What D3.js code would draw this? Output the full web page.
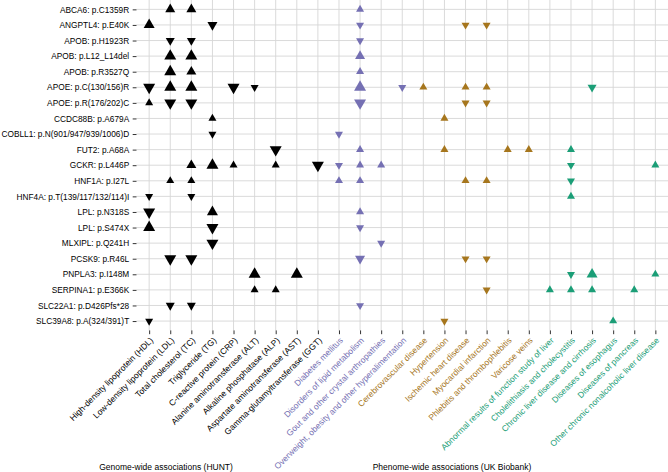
<!DOCTYPE html>
<html>
<head>
<meta charset="utf-8">
<script src="https://cdn.jsdelivr.net/npm/d3@7"></script>
<style>
  html, body { margin: 0; padding: 0; background: #fff; }
  svg { display: block; font-family: "Liberation Sans", Arial, Helvetica, sans-serif; }
</style>
</head>
<body>
<svg id="chart" width="668" height="472"></svg>
<script>
// ---- Data ----
const variants = [
  "ABCA6: p.C1359R", "ANGPTL4: p.E40K", "APOB: p.H1923R", "APOB: p.L12_L14del",
  "APOB: p.R3527Q", "APOE: p.C(130/156)R", "APOE: p.R(176/202)C", "CCDC88B: p.A679A",
  "COBLL1: p.N(901/947/939/1006)D", "FUT2: p.A68A", "GCKR: p.L446P", "HNF1A: p.I27L",
  "HNF4A: p.T(139/117/132/114)I", "LPL: p.N318S", "LPL: p.S474X", "MLXIPL: p.Q241H",
  "PCSK9: p.R46L", "PNPLA3: p.I148M", "SERPINA1: p.E366K", "SLC22A1: p.D426Pfs*28",
  "SLC39A8: p.A(324/391)T"
];

const traits = [
  "High-density lipoprotein (HDL)", "Low-density lipoprotein (LDL)", "Total cholesterol (TC)",
  "Triglyceride (TG)", "C-reactive protein (CRP)", "Alanine aminotransferase (ALT)",
  "Alkaline phosphatase (ALP)", "Aspartate aminotransferase (AST)", "Gamma-glutamyltransferase (GGT)",
  "Diabetes mellitus", "Disorders of lipid metabolism", "Gout and other crystal arthropathies",
  "Overweight, obesity and other hyperalimentation",
  "Cerebrovascular disease", "Hypertension", "Ischemic heart disease", "Myocardial infarction",
  "Phlebitis and thrombophlebitis", "Varicose veins",
  "Abnormal results of function study of liver", "Cholelithiasis and cholecystitis",
  "Chronic liver disease and cirrhosis", "Diseases of esophagus", "Diseases of pancreas",
  "Other chronic nonalcoholic liver disease"
];

// category group of each trait (same order as traits)
const traitGroups = [
  "HUNT","HUNT","HUNT","HUNT","HUNT","HUNT","HUNT","HUNT","HUNT",
  "metabolic","metabolic","metabolic","metabolic",
  "circulatory","circulatory","circulatory","circulatory","circulatory","circulatory",
  "digestive","digestive","digestive","digestive","digestive","digestive"
];
const groupNames = ["HUNT", "metabolic", "circulatory", "digestive"];
const groupColors = ["#000000", "#7570B3", "#A6761D", "#1B9E77"];

const sectionTitles = ["Genome-wide associations (HUNT)", "Phenome-wide associations (UK Biobank)"];

// associations: [variant, trait, direction (1 up / -1 down), strength]
const associations = [
  ["ABCA6: p.C1359R", "Low-density lipoprotein (LDL)", 1, 2],
  ["ABCA6: p.C1359R", "Total cholesterol (TC)", 1, 2],
  ["ABCA6: p.C1359R", "Disorders of lipid metabolism", 1, 1],

  ["ANGPTL4: p.E40K", "High-density lipoprotein (HDL)", 1, 2.5],
  ["ANGPTL4: p.E40K", "Triglyceride (TG)", -1, 2],
  ["ANGPTL4: p.E40K", "Disorders of lipid metabolism", -1, 1],
  ["ANGPTL4: p.E40K", "Ischemic heart disease", -1, 1],
  ["ANGPTL4: p.E40K", "Myocardial infarction", -1, 1],

  ["APOB: p.H1923R", "Low-density lipoprotein (LDL)", -1, 1.5],
  ["APOB: p.H1923R", "Total cholesterol (TC)", -1, 1.5],
  ["APOB: p.H1923R", "Disorders of lipid metabolism", -1, 1],

  ["APOB: p.L12_L14del", "Low-density lipoprotein (LDL)", 1, 3],
  ["APOB: p.L12_L14del", "Total cholesterol (TC)", 1, 3],
  ["APOB: p.L12_L14del", "Disorders of lipid metabolism", 1, 2],

  ["APOB: p.R3527Q", "Low-density lipoprotein (LDL)", 1, 3],
  ["APOB: p.R3527Q", "Total cholesterol (TC)", 1, 2],
  ["APOB: p.R3527Q", "Disorders of lipid metabolism", 1, 1],

  ["APOE: p.C(130/156)R", "High-density lipoprotein (HDL)", -1, 3],
  ["APOE: p.C(130/156)R", "Low-density lipoprotein (LDL)", 1, 3],
  ["APOE: p.C(130/156)R", "Total cholesterol (TC)", 1, 3],
  ["APOE: p.C(130/156)R", "C-reactive protein (CRP)", -1, 3],
  ["APOE: p.C(130/156)R", "Alanine aminotransferase (ALT)", -1, 1],
  ["APOE: p.C(130/156)R", "Disorders of lipid metabolism", 1, 3],
  ["APOE: p.C(130/156)R", "Overweight, obesity and other hyperalimentation", -1, 1],
  ["APOE: p.C(130/156)R", "Cerebrovascular disease", 1, 1],
  ["APOE: p.C(130/156)R", "Ischemic heart disease", 1, 1],
  ["APOE: p.C(130/156)R", "Myocardial infarction", 1, 1],
  ["APOE: p.C(130/156)R", "Chronic liver disease and cirrhosis", -1, 1.5],

  ["APOE: p.R(176/202)C", "High-density lipoprotein (HDL)", 1, 1],
  ["APOE: p.R(176/202)C", "Low-density lipoprotein (LDL)", -1, 3],
  ["APOE: p.R(176/202)C", "Total cholesterol (TC)", -1, 3],
  ["APOE: p.R(176/202)C", "Disorders of lipid metabolism", -1, 3],
  ["APOE: p.R(176/202)C", "Ischemic heart disease", -1, 1],
  ["APOE: p.R(176/202)C", "Myocardial infarction", -1, 1],

  ["CCDC88B: p.A679A", "Triglyceride (TG)", 1, 1],
  ["CCDC88B: p.A679A", "Hypertension", 1, 1],

  ["COBLL1: p.N(901/947/939/1006)D", "Triglyceride (TG)", -1, 1],
  ["COBLL1: p.N(901/947/939/1006)D", "Diabetes mellitus", -1, 1],

  ["FUT2: p.A68A", "Alkaline phosphatase (ALP)", -1, 3],
  ["FUT2: p.A68A", "Disorders of lipid metabolism", 1, 1],
  ["FUT2: p.A68A", "Hypertension", 1, 1],
  ["FUT2: p.A68A", "Phlebitis and thrombophlebitis", 1, 1],
  ["FUT2: p.A68A", "Varicose veins", 1, 1],
  ["FUT2: p.A68A", "Cholelithiasis and cholecystitis", 1, 1],

  ["GCKR: p.L446P", "Total cholesterol (TC)", 1, 2],
  ["GCKR: p.L446P", "Triglyceride (TG)", 1, 3],
  ["GCKR: p.L446P", "C-reactive protein (CRP)", 1, 1],
  ["GCKR: p.L446P", "Alkaline phosphatase (ALP)", 1, 1],
  ["GCKR: p.L446P", "Gamma-glutamyltransferase (GGT)", -1, 3],
  ["GCKR: p.L446P", "Diabetes mellitus", -1, 1],
  ["GCKR: p.L446P", "Disorders of lipid metabolism", 1, 1],
  ["GCKR: p.L446P", "Gout and other crystal arthropathies", 1, 1],
  ["GCKR: p.L446P", "Cholelithiasis and cholecystitis", -1, 1],
  ["GCKR: p.L446P", "Other chronic nonalcoholic liver disease", 1, 1],

  ["HNF1A: p.I27L", "Low-density lipoprotein (LDL)", 1, 1],
  ["HNF1A: p.I27L", "Total cholesterol (TC)", 1, 1],
  ["HNF1A: p.I27L", "Diabetes mellitus", 1, 1],
  ["HNF1A: p.I27L", "Disorders of lipid metabolism", 1, 1],
  ["HNF1A: p.I27L", "Ischemic heart disease", 1, 1],
  ["HNF1A: p.I27L", "Myocardial infarction", 1, 1],
  ["HNF1A: p.I27L", "Cholelithiasis and cholecystitis", -1, 1],

  ["HNF4A: p.T(139/117/132/114)I", "High-density lipoprotein (HDL)", -1, 1],
  ["HNF4A: p.T(139/117/132/114)I", "Total cholesterol (TC)", -1, 1],
  ["HNF4A: p.T(139/117/132/114)I", "Cholelithiasis and cholecystitis", 1, 1],

  ["LPL: p.N318S", "High-density lipoprotein (HDL)", -1, 3],
  ["LPL: p.N318S", "Triglyceride (TG)", 1, 2.5],
  ["LPL: p.N318S", "Disorders of lipid metabolism", 1, 1],

  ["LPL: p.S474X", "High-density lipoprotein (HDL)", 1, 3],
  ["LPL: p.S474X", "Triglyceride (TG)", -1, 3],
  ["LPL: p.S474X", "Disorders of lipid metabolism", -1, 1],

  ["MLXIPL: p.Q241H", "Triglyceride (TG)", -1, 3],
  ["MLXIPL: p.Q241H", "Gout and other crystal arthropathies", -1, 1],

  ["PCSK9: p.R46L", "Low-density lipoprotein (LDL)", -1, 3],
  ["PCSK9: p.R46L", "Total cholesterol (TC)", -1, 3],
  ["PCSK9: p.R46L", "Disorders of lipid metabolism", -1, 2],
  ["PCSK9: p.R46L", "Ischemic heart disease", -1, 1],
  ["PCSK9: p.R46L", "Myocardial infarction", -1, 1],

  ["PNPLA3: p.I148M", "Alanine aminotransferase (ALT)", 1, 3],
  ["PNPLA3: p.I148M", "Aspartate aminotransferase (AST)", 1, 3],
  ["PNPLA3: p.I148M", "Cholelithiasis and cholecystitis", -1, 1],
  ["PNPLA3: p.I148M", "Chronic liver disease and cirrhosis", 1, 2.5],
  ["PNPLA3: p.I148M", "Other chronic nonalcoholic liver disease", 1, 1],

  ["SERPINA1: p.E366K", "Alanine aminotransferase (ALT)", 1, 1],
  ["SERPINA1: p.E366K", "Alkaline phosphatase (ALP)", 1, 1],
  ["SERPINA1: p.E366K", "Myocardial infarction", -1, 1],
  ["SERPINA1: p.E366K", "Abnormal results of function study of liver", 1, 1],
  ["SERPINA1: p.E366K", "Cholelithiasis and cholecystitis", 1, 1],
  ["SERPINA1: p.E366K", "Chronic liver disease and cirrhosis", 1, 1],
  ["SERPINA1: p.E366K", "Diseases of pancreas", 1, 1],

  ["SLC22A1: p.D426Pfs*28", "Low-density lipoprotein (LDL)", -1, 1.5],
  ["SLC22A1: p.D426Pfs*28", "Total cholesterol (TC)", -1, 1.5],
  ["SLC22A1: p.D426Pfs*28", "Disorders of lipid metabolism", -1, 1],

  ["SLC39A8: p.A(324/391)T", "High-density lipoprotein (HDL)", -1, 1],
  ["SLC39A8: p.A(324/391)T", "Hypertension", -1, 1],
  ["SLC39A8: p.A(324/391)T", "Diseases of esophagus", 1, 1]
];

// ---- Layout ----
const svg = d3.select("#chart");
const panel = { left: 136.5, right: 668, top: 0, bottom: 330.4 };
const fontSize = 8.5;
const yFontSize = 8.3;

const x = d3.scalePoint().domain(traits).range([panel.left, panel.right]).padding(0.6);
const y = d3.scalePoint().domain(variants).range([panel.top, panel.bottom]).padding(0.6);
const color = d3.scaleOrdinal().domain(groupNames).range(groupColors);
const groupOf = new Map(traits.map((t, i) => [t, traitGroups[i]]));
// strength -> triangle width (px) -> symbol area
const widthScale = d3.scaleLinear().domain([1, 3]).range([8, 12]);
const triArea = s => Math.sqrt(3) / 4 * Math.pow(widthScale(s), 2);

// grid
const grid = svg.append("g").attr("stroke", "#d6d6d6").attr("stroke-width", 0.9);
grid.selectAll("line.v").data(traits).join("line")
  .attr("x1", d => x(d)).attr("x2", d => x(d))
  .attr("y1", panel.top).attr("y2", panel.bottom);
grid.selectAll("line.h").data(variants).join("line")
  .attr("x1", panel.left).attr("x2", panel.right)
  .attr("y1", d => y(d)).attr("y2", d => y(d));

// y axis
const yAxis = d3.axisLeft(y).tickSize(3.8).tickPadding(3.5);
const gy = svg.append("g").attr("transform", `translate(${panel.left},0)`).call(yAxis);
gy.select(".domain").remove();
gy.selectAll(".tick line").attr("stroke", "#333").attr("stroke-width", 1);
gy.selectAll(".tick text").attr("fill", "#000").style("font-size", yFontSize + "px")
  .style("font-family", "'Liberation Sans', Arial, sans-serif");

// x axis
const xAxis = d3.axisBottom(x).tickSize(3.8).tickFormat("");
const gx = svg.append("g").attr("transform", `translate(0,${panel.bottom})`).call(xAxis);
gx.select(".domain").remove();
gx.selectAll(".tick line").attr("stroke", "#333").attr("stroke-width", 1);
gx.selectAll(".tick").append("text")
  .attr("transform", "translate(4,10.5) rotate(-45)")
  .attr("text-anchor", "end")
  .attr("fill", d => color(groupOf.get(d)))
  .style("font-size", fontSize + "px")
  .style("font-family", "'Liberation Sans', Arial, sans-serif")
  .text(d => d);

// points
svg.append("g").selectAll("path").data(associations).join("path")
  .attr("d", d => d3.symbol().type(d3.symbolTriangle).size(triArea(d[3]))())
  .attr("transform", d => `translate(${x(d[1])},${y(d[0])}) rotate(${d[2] > 0 ? 0 : 180})`)
  .attr("fill", d => color(groupOf.get(d[1])));

// section titles
svg.append("g").selectAll("text").data(sectionTitles).join("text")
  .attr("x", (d, i) => i === 0 ? 166 : 452)
  .attr("y", 469.5)
  .attr("text-anchor", "middle")
  .attr("fill", "#000")
  .style("font-size", fontSize + "px")
  .text(d => d);
</script>
</body>
</html>
